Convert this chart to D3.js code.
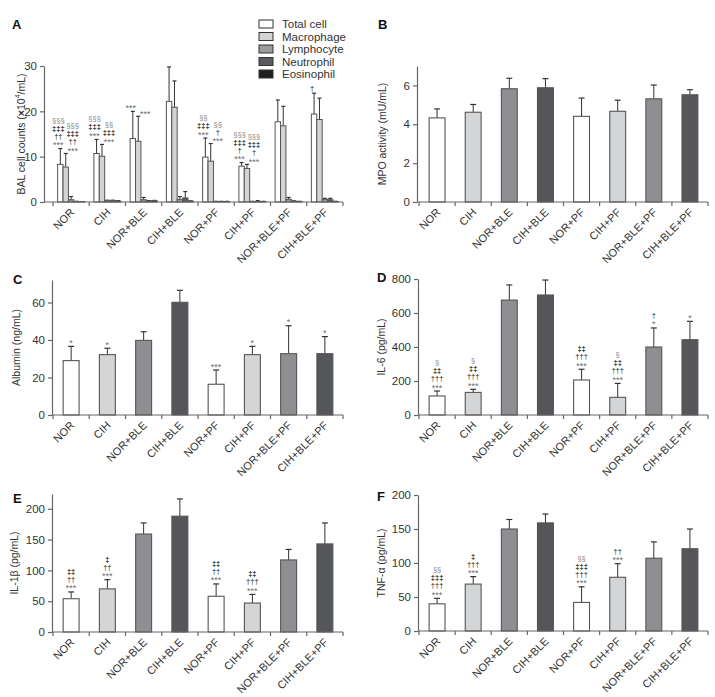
<!DOCTYPE html>
<html><head><meta charset="utf-8">
<script src="https://cdn.jsdelivr.net/npm/d3@7"></script>
<style>body{margin:0;background:#fff} text{font-family:"Liberation Sans",Arial,sans-serif}</style>
</head><body><svg id="c" width="715" height="697"></svg>
<script>
// ---------- DATA ----------
const groups = ["NOR","CIH","NOR+BLE","CIH+BLE","NOR+PF","CIH+PF","NOR+BLE+PF","CIH+BLE+PF"];
const cellTypes = ["Total cell","Macrophage","Lymphocyte","Neutrophil","Eosinophil"];

// Panel A: BAL cell counts (x10^4/mL)
const totalCell      = [8.3,10.7,14.0,22.2,9.9,7.9,17.7,19.4];
const totalCellSD    = [3.5,3.1,6.0,7.6,4.2,0.8,4.8,4.6];
const macrophage     = [7.7,10.1,13.4,20.9,9.0,7.4,16.8,18.2];
const macrophageSD   = [3.0,2.6,5.5,5.8,3.9,0.9,4.3,4.7];
const lymphocyte     = [0.5,0.3,0.5,0.6,0.1,0.1,0.6,0.6];
const lymphocyteSD   = [0.7,0.1,0.5,0.6,0.05,0.05,0.4,0.2];
const neutrophil     = [0.1,0.3,0.2,0.9,0.1,0.1,0.2,0.5];
const neutrophilSD   = [0.05,0.1,0.1,1.4,0.05,0.2,0.05,0.3];
const eosinophil     = [0.1,0.2,0.3,0.2,0.1,0.1,0.1,0.1];
const eosinophilSD   = [0.0,0.1,0.05,0.05,0.05,0.05,0.05,0.05];
const annTotal = [["***","††","‡‡‡","§§§"],["***","‡‡‡","§§§"],["***"],[],["***","‡‡‡","§§"],["***","†","‡‡‡","§§§"],[],["†"]];
const annMacro = [["***","††","‡‡‡","§§§"],["***","‡‡‡","§§"],["***"],[],["***","†","§§"],["***","†","‡‡‡","§§§"],[],[]];

// Panel B: MPO activity (mU/mL)
const mpo   = [4.33,4.62,5.83,5.88,4.41,4.67,5.31,5.52];
const mpoSD = [0.46,0.40,0.54,0.47,0.94,0.57,0.71,0.26];
// Panel C: Albumin (ng/mL)
const albumin   = [29.0,32.2,39.8,60.1,16.4,32.2,32.7,32.7];
const albuminSD = [7.6,3.4,4.6,6.4,7.6,4.4,14.9,9.1];
const annAlbumin = [["*"],["*"],[],[],["***"],["*"],["*"],["*"]];
// Panel D: IL-6 (pg/mL)
const il6   = [112,133,676,706,206,104,400,443];
const il6SD = [29,18,89,88,63,82,112,108];
const annIl6 = [["***","†††","‡‡","§"],["***","†††","‡‡","§"],[],[],["***","†††","‡‡"],["***","†††","‡‡","§"],["*","†"],["*"]];
// Panel E: IL-1beta (pg/mL)
const il1b   = [54,70,159,188,58,47,117,143];
const il1bSD = [11,15,18,28,20,14,17,34];
const annIl1b = [["***","††","‡‡"],["***","††","‡"],[],[],["***","††","‡‡"],["***","†††","‡‡"],[],[]];
// Panel F: TNF-alpha (pg/mL)
const tnf   = [40,69,150,159,42,79,107,121];
const tnfSD = [8,11,14,13,23,20,24,29];
const annTnf = [["***","†††","‡‡‡","§§"],["***","†††","‡"],[],[],["***","†††","‡‡‡","§§"],["***","††"],[],[]];

const ticksA = [0,10,20,30], ticksB = [0,2,4,6], ticksC = [0,20,40,60],
      ticksD = [0,200,400,600,800], ticksE = [0,50,100,150,200], ticksF = [0,50,100,150,200];

// ---------- STYLE ----------
const cellColors = ["#ffffff","#d3d4d6","#9a9b9e","#5a5c60","#1e1e20"];
const groupColors = ["#ffffff","#d4d5d7","#8e8f92","#54565a","#ffffff","#d4d5d7","#8e8f92","#54565a"];
const axisColor = "#666", textColor = "#333", barStroke = "#555";
const annSize = 7.5, annStep = 8;

const svg = d3.select("#c");

function symColor(s){ return s.includes("*") ? "#6e6e6e" : (s.includes("§") ? "#8a8a8a" : "#1a1a1a"); }

function styleY(ya){
  ya.select(".domain").attr("stroke",axisColor).attr("stroke-width",1.2);
  ya.selectAll(".tick line").attr("stroke",axisColor).attr("stroke-width",1.2);
  ya.selectAll("text").attr("fill",textColor).style("font-size","11.5px");
}

function drawXAxis(g, x, y0, startX){
  g.append("line").attr("x1",startX).attr("x2",x.range()[1]).attr("y1",y0).attr("y2",y0)
    .attr("stroke",axisColor).attr("stroke-width",1.2);
  const bounds = groups.map(d=>x(d)).concat([x.range()[1]]);
  g.selectAll(null).data(bounds).join("line")
    .attr("x1",d=>d).attr("x2",d=>d).attr("y1",y0).attr("y2",y0+4)
    .attr("stroke",axisColor).attr("stroke-width",1.2);
  const xa = g.append("g").attr("transform",`translate(0,${y0})`)
    .call(d3.axisBottom(x).tickSize(0).tickPadding(0));
  xa.select(".domain").remove();
  xa.selectAll("text")
    .attr("fill",textColor).style("font-size","11px")
    .attr("text-anchor","end").attr("dy",null).attr("y",null)
    .attr("transform","translate(4,11) rotate(-45)");
}

function drawAxes(g, x, y, yAxisX, ticks, yMax, title, titleX){
  const ya = g.append("g").attr("transform",`translate(${yAxisX},0)`)
    .call(d3.axisLeft(y).tickValues(ticks).tickFormat(d3.format("d")).tickSize(4).tickSizeOuter(0).tickPadding(3));
  styleY(ya);
  drawXAxis(g, x, y(0), yAxisX);
  g.append("text").attr("transform",`translate(${titleX},${(y(0)+y(yMax))/2}) rotate(-90)`)
    .attr("text-anchor","middle").attr("dominant-baseline","middle")
    .attr("fill",textColor).style("font-size","10.5px").text(title);
}

function errBar(g, cx, yTop, yBar, capW){
  g.append("line").attr("x1",cx).attr("x2",cx).attr("y1",yBar).attr("y2",yTop).attr("stroke","#333").attr("stroke-width",1);
  g.append("line").attr("x1",cx-capW/2).attr("x2",cx+capW/2).attr("y1",yTop).attr("y2",yTop).attr("stroke","#333").attr("stroke-width",1.2);
}

function annot(g, cx, yBase, list){
  list.forEach((s,k)=>{
    const star = s.includes("*");
    g.append("text").attr("x",cx).attr("y",yBase - k*annStep + (star?1.5:0)).attr("text-anchor","middle")
      .attr("fill",symColor(s)).style("font-size",(star?9:annSize)+"px")
      .style("font-weight", s.includes("‡")?"bold":"normal").text(s);
  });
}

function letter(txt, x, y){
  svg.append("text").attr("x",x).attr("y",y).style("font-weight","bold").style("font-size","13px").attr("fill","#111").text(txt);
}

function singlePanel(opts){
  const {vals, sd, ann, yMax, yRange, ticks, yAxisX, xRange, title, titleX} = opts;
  const g = svg.append("g");
  const x = d3.scaleBand().domain(groups).range(xRange).padding(0);
  const y = d3.scaleLinear().domain([0,yMax]).range(yRange);
  const bw = x.bandwidth()*0.44;
  groups.forEach((grp,i)=>{
    const cx = x(grp)+x.bandwidth()/2;
    errBar(g, cx, y(vals[i]+sd[i]), y(vals[i]), 6);
  });
  g.selectAll(null).data(groups).join("rect")
    .attr("x",d=>x(d)+x.bandwidth()/2-bw/2).attr("width",bw)
    .attr("y",(d,i)=>y(vals[i])).attr("height",(d,i)=>y(0)-y(vals[i]))
    .attr("fill",(d,i)=>groupColors[i]).attr("stroke",barStroke).attr("stroke-width",1.1);
  if (ann) groups.forEach((grp,i)=>{
    annot(g, x(grp)+x.bandwidth()/2, y(vals[i]+sd[i])-2, ann[i]);
  });
  drawAxes(g, x, y, yAxisX, ticks, yMax, title, titleX);
}

// ---------- PANEL A ----------
(function(){
  const g = svg.append("g");
  const x = d3.scaleBand().domain(groups).range([53,343]).padding(0);
  const y = d3.scaleLinear().domain([0,30]).range([202,66]);
  const pad = (x.bandwidth()-27)/2;
  const xi = d3.scaleBand().domain(cellTypes).range([pad, x.bandwidth()-pad]).padding(0);
  const means = [totalCell, macrophage, lymphocyte, neutrophil, eosinophil];
  const sds = [totalCellSD, macrophageSD, lymphocyteSD, neutrophilSD, eosinophilSD];
  groups.forEach((grp,i)=>{
    cellTypes.forEach((ct,j)=>{
      const cx = x(grp)+xi(ct)+xi.bandwidth()/2;
      if (sds[j][i] > 0) errBar(g, cx, y(means[j][i]+sds[j][i]), y(means[j][i]), 4);
    });
  });
  groups.forEach((grp,i)=>{
    g.selectAll(null).data(cellTypes).join("rect")
      .attr("x",d=>x(grp)+xi(d)).attr("width",xi.bandwidth())
      .attr("y",(d,j)=>y(means[j][i])).attr("height",(d,j)=>y(0)-y(means[j][i]))
      .attr("fill",(d,j)=>cellColors[j]).attr("stroke",barStroke).attr("stroke-width",1);
  });
  groups.forEach((grp,i)=>{
    const cT = x(grp)+xi(cellTypes[0])+xi.bandwidth()/2;
    const cM = x(grp)+xi(cellTypes[1])+xi.bandwidth()/2;
    annot(g, cT-2, y(totalCell[i]+totalCellSD[i])-2, annTotal[i]);
    annot(g, cM+7, y(macrophage[i]+macrophageSD[i])-1, annMacro[i]);
  });
  const ya = g.append("g").attr("transform","translate(44,0)")
    .call(d3.axisLeft(y).tickValues(ticksA).tickFormat(d3.format("d")).tickSize(4).tickSizeOuter(0).tickPadding(3));
  styleY(ya);
  drawXAxis(g, x, y(0), 44);
  const t = g.append("text").attr("transform",`translate(22,${(y(0)+y(30))/2}) rotate(-90)`)
    .attr("text-anchor","middle").attr("dominant-baseline","middle").attr("fill",textColor).style("font-size","10.5px");
  t.append("tspan").text("BAL cell counts (");
  t.append("tspan").style("font-weight","bold").text("×");
  t.append("tspan").text("10");
  t.append("tspan").attr("dy",-4).style("font-size","7px").text("4");
  t.append("tspan").attr("dy",4).text("/mL)");
  const lg = g.append("g");
  cellTypes.forEach((ct,j)=>{
    const ly = 20 + j*12.5;
    lg.append("rect").attr("x",259).attr("y",ly).attr("width",14).attr("height",8)
      .attr("fill",cellColors[j]).attr("stroke","#333").attr("stroke-width",1);
    lg.append("text").attr("x",282).attr("y",ly+8).attr("fill",textColor).style("font-size","11.5px").text(ct);
  });
})();

// ---------- PANELS B-F ----------
singlePanel({vals:mpo, sd:mpoSD, ann:null, yMax:7, yRange:[202,66], ticks:ticksB, yAxisX:417, xRange:[419,708], title:"MPO activity (mU/mL)", titleX:383});
singlePanel({vals:albumin, sd:albuminSD, ann:annAlbumin, yMax:72, yRange:[415,280], ticks:ticksC, yAxisX:52, xRange:[53,343], title:"Albumin (ng/mL)", titleX:17});
singlePanel({vals:il6, sd:il6SD, ann:annIl6, yMax:800, yRange:[415,279], ticks:ticksD, yAxisX:418, xRange:[419,708], title:"IL-6 (pg/mL)", titleX:382});
singlePanel({vals:il1b, sd:il1bSD, ann:annIl1b, yMax:224, yRange:[632,494], ticks:ticksE, yAxisX:52, xRange:[53,343], title:"IL-1β (pg/mL)", titleX:15});
singlePanel({vals:tnf, sd:tnfSD, ann:annTnf, yMax:200, yRange:[631,495], ticks:ticksF, yAxisX:418, xRange:[419,708], title:"TNF-α (pg/mL)", titleX:382});

letter("A",12,29); letter("B",378,29); letter("C",13,284); letter("D",377,282); letter("E",13,503); letter("F",377,501);
</script></body></html>
